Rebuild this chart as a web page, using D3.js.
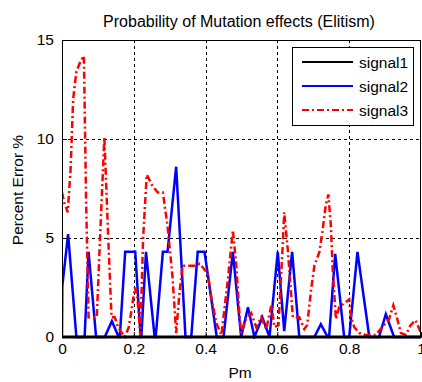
<!DOCTYPE html>
<html>
<head>
<meta charset="utf-8">
<script src="https://cdn.jsdelivr.net/npm/d3@7"></script>
<style>
  body { margin: 0; background: #fff; }
  svg { display: block; font-family: "Liberation Sans", Arial, sans-serif; }
</style>
</head>
<body>
<div id="chart"></div>
<script>
// x positions (Pm) and values for each series
const pm1 = [0, 0.1, 0.2, 0.3, 0.4, 0.5, 0.6, 0.7, 0.8, 0.9, 1.0]
const signal1 = [0, 0, 0, 0, 0, 0, 0, 0, 0, 0, 0]

const pm2 = [0, 0.001, 0.017, 0.040, 0.063, 0.074, 0.095, 0.119, 0.139, 0.158, 0.161, 0.176, 0.204, 0.219, 0.221,
  0.234, 0.258, 0.261, 0.281, 0.294, 0.318, 0.344, 0.360, 0.378, 0.397, 0.431, 0.450, 0.476, 0.499, 0.518,
  0.536, 0.558, 0.578, 0.601, 0.619, 0.641, 0.661, 0.703, 0.721, 0.740, 0.744, 0.761, 0.786, 0.800, 0.823,
  0.856, 0.883, 0.902, 0.925, 1.0]
const signal2 = [0, 2.6, 5.2, 0, 0, 4.3, 0, 0, 0.8, 0, 0, 4.3, 4.3, 0, 0,
  4.3, 0, 0, 4.3, 4.3, 8.6, 0, 0, 4.3, 4.3, 0, 0, 4.3, 0, 1.5,
  0, 1.0, 0, 4.3, 0.3, 4.3, 0, 0, 0.65, 0, 0, 4.2, 0, 0, 4.3,
  0, 0, 1.15, 0, 0]

const pm3 = [0, 0.006, 0.016, 0.024, 0.031, 0.040, 0.052, 0.061, 0.067, 0.074, 0.086, 0.097, 0.106, 0.118, 0.129,
  0.138, 0.147, 0.156, 0.167, 0.175, 0.186, 0.194, 0.203, 0.210, 0.218, 0.226, 0.236, 0.253, 0.267, 0.281,
  0.294, 0.308, 0.318, 0.327, 0.336, 0.356, 0.375, 0.383, 0.393, 0.406, 0.416, 0.430, 0.444, 0.462, 0.476,
  0.485, 0.494, 0.499, 0.513, 0.527, 0.541, 0.555, 0.569, 0.583, 0.592, 0.603, 0.615, 0.619, 0.629, 0.643,
  0.661, 0.675, 0.683, 0.694, 0.703, 0.717, 0.726, 0.735, 0.742, 0.749, 0.754, 0.763, 0.772, 0.786, 0.800,
  0.805, 0.814, 0.828, 0.846, 0.874, 0.892, 0.911, 0.923, 0.934, 0.944, 0.958, 0.971, 0.985, 1.0]
const signal3 = [7.3, 6.8, 6.3, 8.5, 12.0, 13.4, 13.95, 14.2, 7.0, 1.0, 1.0, 1.0, 5.0, 10.1, 4.9,
  1.0, 1.0, 0.5, 0.2, 0, 0.5, 1.4, 2.5, 2.0, 0.1, 5.0, 8.2, 7.6, 7.3, 7.3,
  5.6, 3.0, 0.2, 2.2, 3.6, 3.6, 3.6, 3.7, 3.5, 3.2, 2.0, 0.7, 0.1, 2.9, 5.4,
  3.7, 1.2, 0.2, 0.9, 1.2, 0.5, 1.0, 0.4, 1.6, 0.5, 0.6, 4.7, 6.3, 4.4, 1.0,
  1.0, 0.4, 0.6, 2.4, 3.6, 4.3, 5.4, 6.7, 7.2, 5.6, 3.4, 0.9, 1.5, 1.7, 1.9,
  1.0, 0.5, 0.2, 0.1, 0.1, 0.5, 0.9, 1.6, 0.9, 0.2, 0.1, 0.6, 0.85, 0.2]

const xTicks = [0, 0.2, 0.4, 0.6, 0.8, 1]
const yTicks = [0, 5, 10, 15]
const seriesNames = ['signal1', 'signal2', 'signal3']

const width = 422, height = 382
const margin = { left: 62, top: 40, right: 1, bottom: 45 }
const plotW = width - margin.left - margin.right
const plotH = height - margin.top - margin.bottom

const svg = d3.select('#chart').append('svg')
  .attr('width', width)
  .attr('height', height)

const x = d3.scaleLinear().domain([0, 1]).range([margin.left, margin.left + plotW])
const y = d3.scaleLinear().domain([0, 15]).range([margin.top + plotH, margin.top])

// dashed grid
const grid = svg.append('g').attr('stroke', '#000').attr('stroke-width', 1).attr('stroke-dasharray', '3,3')
grid.selectAll('.gx').data(xTicks.filter(t => t > 0 && t < 1)).enter().append('line')
  .attr('x1', d => Math.round(x(d)) + 0.5).attr('x2', d => Math.round(x(d)) + 0.5)
  .attr('y1', y(15)).attr('y2', y(0))
grid.selectAll('.gy').data(yTicks.filter(t => t > 0 && t < 15)).enter().append('line')
  .attr('y1', d => Math.round(y(d)) + 0.5).attr('y2', d => Math.round(y(d)) + 0.5)
  .attr('x1', x(0)).attr('x2', x(1))

svg.append('clipPath').attr('id', 'clip').append('rect')
  .attr('x', x(0)).attr('y', y(15)).attr('width', plotW).attr('height', plotH + 2)

const line = d3.line().x(d => x(d[0])).y(d => y(d[1]))
const plot = svg.append('g').attr('clip-path', 'url(#clip)').attr('fill', 'none')

plot.append('path')
  .datum(pm2.map((p, i) => [p, signal2[i]]))
  .attr('d', line).attr('stroke', '#0000ff').attr('stroke-width', 2.5)
  .attr('stroke-linejoin', 'miter')

plot.append('path')
  .datum(pm3.map((p, i) => [p, signal3[i]]))
  .attr('d', line).attr('stroke', '#ff0000').attr('stroke-width', 2.5)
  .attr('stroke-dasharray', '7,3,2,3')

plot.append('path')
  .datum(pm1.map((p, i) => [p, signal1[i]]))
  .attr('d', line).attr('stroke', '#000').attr('stroke-width', 3)

// axes, ticks pointing inward like matlab
const fontSize = '15.5px'
const xAxis = svg.append('g')
  .attr('transform', 'translate(0,' + y(0) + ')')
  .call(d3.axisBottom(x).tickValues(xTicks).tickFormat(d3.format('')).tickSize(-5).tickPadding(6))
xAxis.selectAll('text').attr('font-size', fontSize).attr('fill', '#000')

const yAxis = svg.append('g')
  .attr('transform', 'translate(' + x(0) + ',0)')
  .call(d3.axisLeft(y).tickValues(yTicks).tickSize(-5).tickPadding(8))
yAxis.selectAll('text').attr('font-size', fontSize).attr('fill', '#000')
svg.selectAll('.domain').attr('stroke', '#000')

// top border and right border
svg.append('line').attr('x1', x(0)).attr('x2', x(1)).attr('y1', y(15) + 0.5).attr('y2', y(15) + 0.5)
  .attr('stroke', '#000')
svg.append('line').attr('x1', x(1) - 0.5).attr('x2', x(1) - 0.5).attr('y1', y(15)).attr('y2', y(0))
  .attr('stroke', '#000')

// titles
svg.append('text').attr('x', 239).attr('y', 27).attr('text-anchor', 'middle')
  .attr('font-size', '16px').text('Probability of Mutation effects (Elitism)')
svg.append('text').attr('x', 240).attr('y', 378).attr('text-anchor', 'middle')
  .attr('font-size', fontSize).text('Pm')
svg.append('text').attr('transform', 'translate(23,190)rotate(-90)').attr('text-anchor', 'middle')
  .attr('font-size', fontSize).text('Percent Error %')

// legend
const legend = svg.append('g').attr('transform', 'translate(292,47)')
legend.append('rect').attr('x', 0.5).attr('y', 0.5).attr('width', 121).attr('height', 78)
  .attr('fill', '#fff').attr('stroke', '#000')
const legendStyles = [
  { color: '#000', dash: null },
  { color: '#0000ff', dash: null },
  { color: '#ff0000', dash: '7,3,2,3' }
]
seriesNames.forEach((name, i) => {
  const ly = 15 + i * 24
  legend.append('line').attr('x1', 10).attr('x2', 61).attr('y1', ly).attr('y2', ly)
    .attr('stroke', legendStyles[i].color).attr('stroke-width', 2)
    .attr('stroke-dasharray', legendStyles[i].dash)
  legend.append('text').attr('x', 67).attr('y', ly + 5.5).attr('font-size', fontSize).text(name)
})
</script>
</body>
</html>
